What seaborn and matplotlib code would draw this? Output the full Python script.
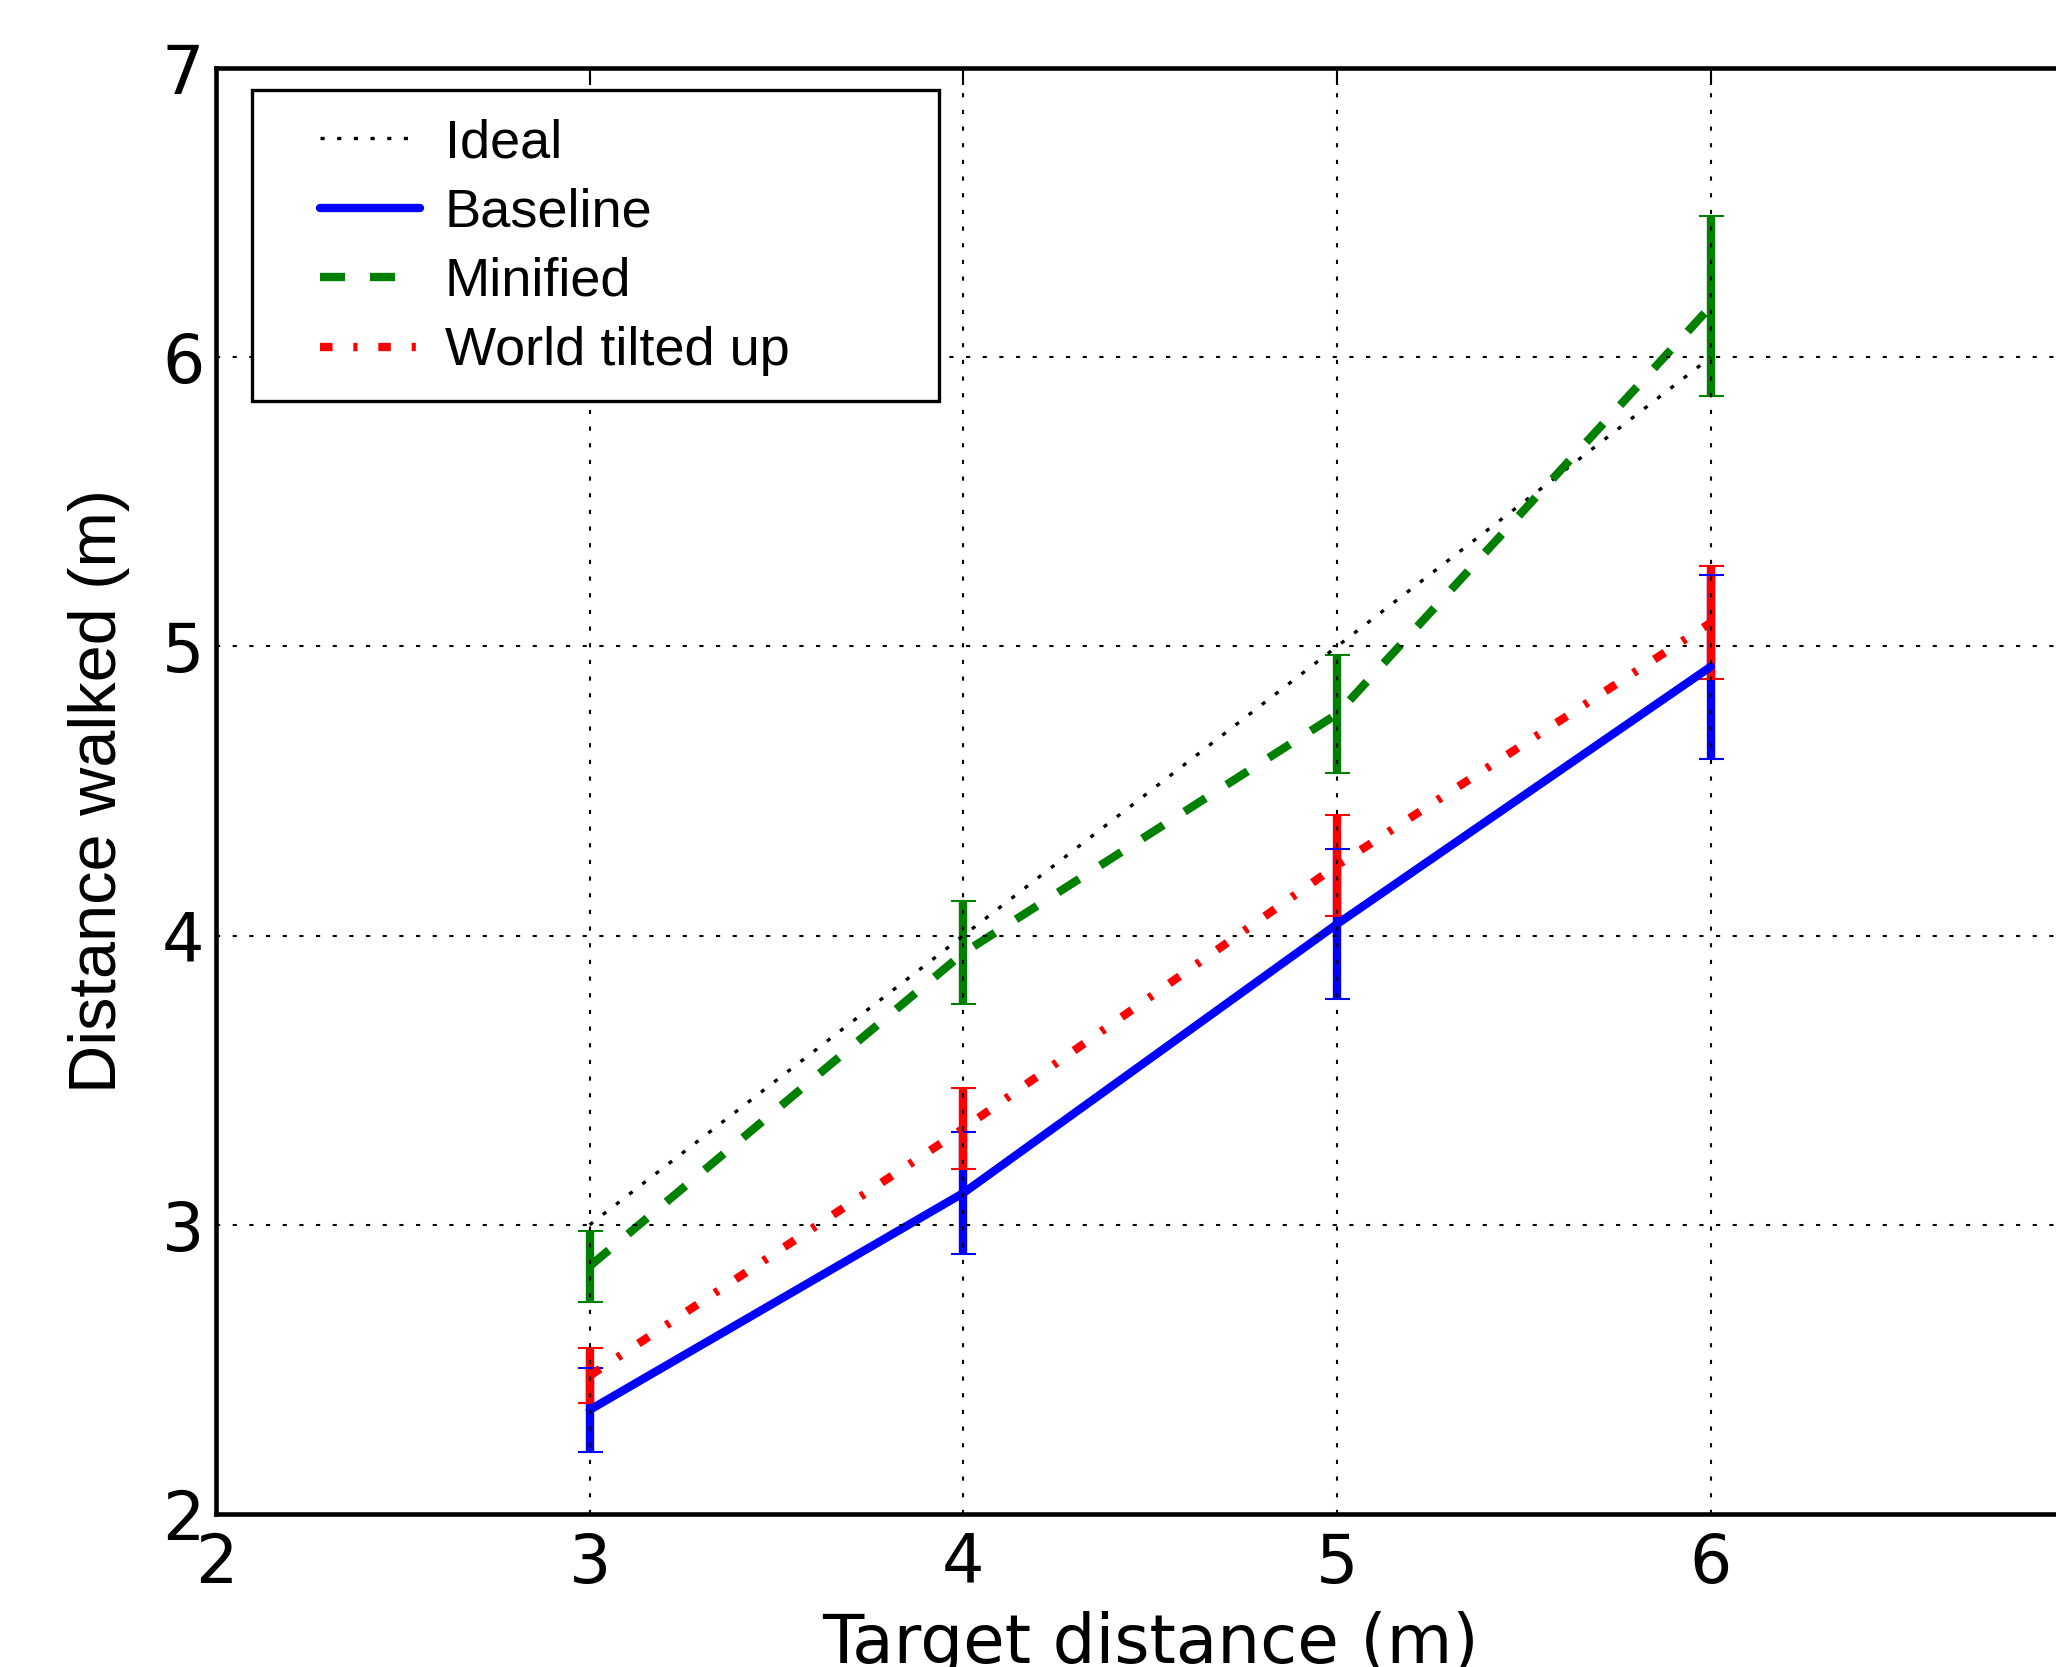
import matplotlib
matplotlib.use("Agg")
import matplotlib.pyplot as plt
from matplotlib.patches import Rectangle
import seaborn as sns

# values (metres)
target = [3, 4, 5, 6]
ideal = [3, 4, 5, 6]
baseline = [2.36, 3.11, 4.04, 4.93]
baseline_err = [0.145, 0.21, 0.26, 0.318]
minified = [2.857, 3.94, 4.766, 6.176]
minified_err = [0.123, 0.178, 0.205, 0.311]
tilted = [2.478, 3.333, 4.243, 5.082]
tilted_err = [0.095, 0.141, 0.175, 0.195]
xticks = [2, 3, 4, 5, 6]
yticks = [2, 3, 4, 5, 6, 7]

sns.set_style("white")
plt.rcParams["font.family"] = ["DejaVu Sans"]
plt.rcParams["lines.scale_dashes"] = False
plt.rcParams["text.color"] = "k"
plt.rcParams["axes.labelcolor"] = "k"

fig = plt.figure(figsize=(2056 / 300, 1667 / 300), dpi=300)
ax = fig.add_axes([0.10506, 0.09178, 0.9088, 0.86743])

# error bars first (bars under caps under lines)
for ys, es, c in [(baseline, baseline_err, "#0000ff"),
                  (minified, minified_err, "#008000"),
                  (tilted, tilted_err, "#ff0000")]:
    eb = ax.errorbar(target, ys, yerr=es, fmt="none", ecolor=c, elinewidth=2,
                     capsize=3, capthick=0.5)
    for cl in eb[1]:
        cl.set_zorder(2.05)
    for bc in eb[2]:
        bc.set_zorder(2.0)

sns.lineplot(x=target, y=ideal, color="k", linewidth=0.8,
             linestyle=(0, (1, 3)), label="Ideal", ax=ax, zorder=2.1)
sns.lineplot(x=target, y=baseline, color="#0000ff", linewidth=2,
             linestyle="-", label="Baseline", ax=ax, zorder=2.1)
sns.lineplot(x=target, y=minified, color="#008000", linewidth=2,
             linestyle=(0, (6, 6)), label="Minified", ax=ax, zorder=2.1)
sns.lineplot(x=target, y=tilted, color="#ff0000", linewidth=2,
             linestyle=(0, (3, 5, 1, 5)), label="World tilted up", ax=ax, zorder=2.1)

ax.set_xlim(2, 7)
ax.set_ylim(2, 7)
ax.set_xticks(xticks)
ax.set_yticks(yticks)
ax.set_axisbelow(False)
ax.grid(True, color="k", linestyle=(0, (1, 3)), linewidth=0.5)
for s in ax.spines.values():
    s.set_linewidth(1.1)
    s.set_color("k")
ax.tick_params(direction="in", top=True, right=True, length=4, width=0.5,
               labelsize=16, colors="k")
ax.tick_params(axis="x", pad=4)
ax.tick_params(axis="y", pad=2.8)

ax.set_xlabel("Target distance (m)", fontsize=16.2, family="DejaVu Sans")
ax.set_ylabel("Distance walked (m)", fontsize=16, family="Liberation Sans")
ax.yaxis.set_label_coords(-0.046, 0.5)
ax.xaxis.set_label_coords(0.5, -0.067)

# legend box with white fill, drawn separately
ax.add_patch(Rectangle((252 / 2056, 1 - 400.7 / 1667), (939 - 252) / 2056,
                       (400.7 - 90) / 1667, transform=fig.transFigure,
                       facecolor="white", edgecolor="k", linewidth=0.8, zorder=4))
ax.legend(loc="upper left", bbox_to_anchor=(320 / 2056, 1 - 118 / 1667),
          bbox_transform=fig.transFigure, frameon=False,
          prop={"family": "Liberation Sans", "size": 13},
          handlelength=1.85, handletextpad=0.45, labelspacing=0.36,
          borderpad=0, borderaxespad=0)

fig.savefig("out.png", dpi=300)
